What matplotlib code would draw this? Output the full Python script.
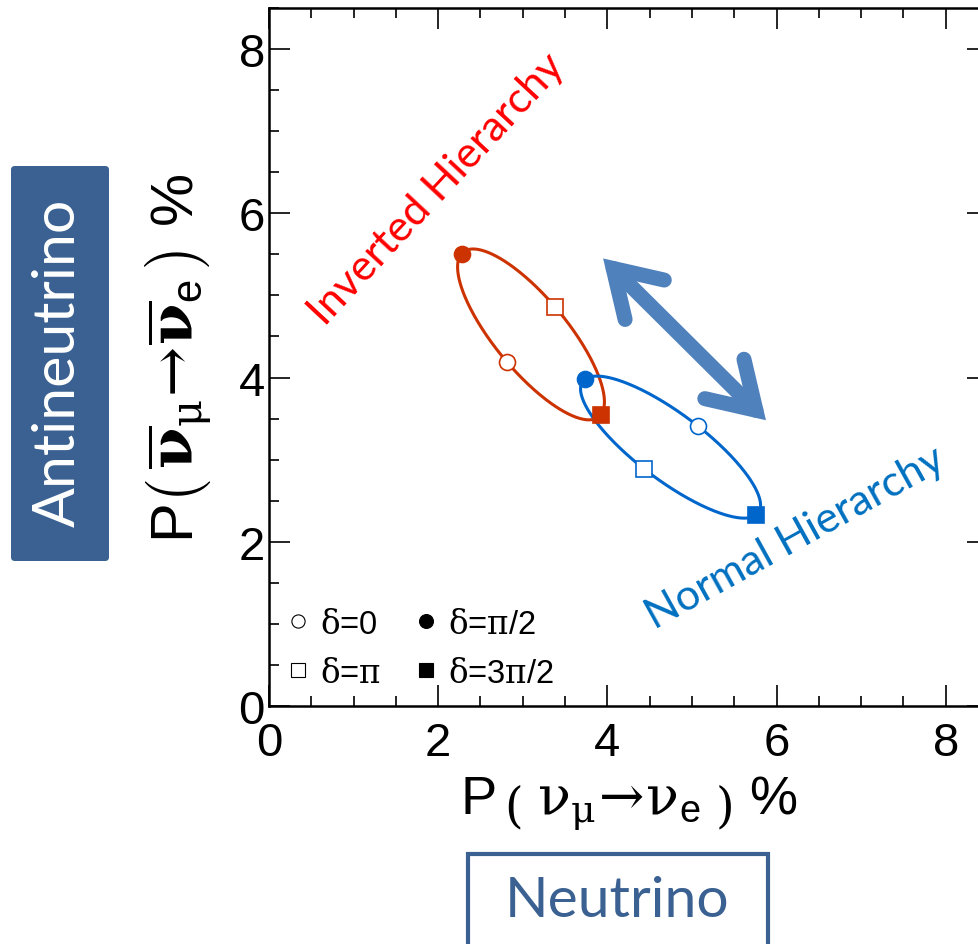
import numpy as np
import matplotlib
matplotlib.use('Agg')
import matplotlib.pyplot as plt
from matplotlib.lines import Line2D
from matplotlib.patches import FancyArrowPatch, FancyBboxPatch

# ---------------- data ----------------
# order of points: delta = 0, pi/2, pi, 3pi/2
delta_names = ['0', r'$\pi$/2', r'$\pi$', r'3$\pi$/2']
nh_nu    = [5.07, 3.73, 4.43, 5.76]   # Normal hierarchy, P(nu_mu -> nu_e) %
nh_nubar = [3.41, 3.98, 2.89, 2.33]   # Normal hierarchy, P(anti) %
ih_nu    = [2.81, 2.28, 3.38, 3.92]   # Inverted hierarchy
ih_nubar = [4.19, 5.51, 4.86, 3.54]
xticks = [0, 2, 4, 6, 8]
yticks = [0, 2, 4, 6, 8]

IH_COLOR = '#CC3300'
NH_COLOR = '#0066CC'
BOX_COLOR = '#3A6191'

plt.rcParams['font.family'] = ['Liberation Sans', 'DejaVu Sans']
plt.rcParams['mathtext.fontset'] = 'custom'
plt.rcParams['mathtext.rm'] = 'DejaVu Serif'
plt.rcParams['mathtext.it'] = 'DejaVu Serif:italic'
plt.rcParams['mathtext.bf'] = 'DejaVu Serif:bold'
plt.rcParams['mathtext.sf'] = 'Liberation Sans'
plt.rcParams['mathtext.default'] = 'rm'


def cp_ellipse(px, py, n=400):
    """CP-phase ellipse x = c + a cos(d) + b sin(d) through the four delta points."""
    px = np.asarray(px, float)
    py = np.asarray(py, float)
    d = np.linspace(0, 2 * np.pi, n)
    cx, cy = px.mean(), py.mean()
    ax_, bx_ = (px[0] - px[2]) / 2, (px[1] - px[3]) / 2
    ay_, by_ = (py[0] - py[2]) / 2, (py[1] - py[3]) / 2
    return cx + ax_ * np.cos(d) + bx_ * np.sin(d), cy + ay_ * np.cos(d) + by_ * np.sin(d)


W, H = 979, 945
fig = plt.figure(figsize=(W / 100, H / 100), dpi=100)
ax = fig.add_axes([269 / W, (H - 707) / H, (988 - 269) / W, (707 - 9) / H])

ax.set_xlim(0, 8.5)
ax.set_ylim(0, 8.5)

marker_specs = [
    dict(marker='o', filled=False, ms=11.5),
    dict(marker='o', filled=True, ms=11.5),
    dict(marker='s', filled=False, ms=11),
    dict(marker='s', filled=True, ms=11.5),
]

for xs, ys, col in [(ih_nu, ih_nubar, IH_COLOR), (nh_nu, nh_nubar, NH_COLOR)]:
    ex, ey = cp_ellipse(xs, ys)
    ax.plot(ex, ey, color=col, lw=2.2, zorder=2)
    for i, spec in enumerate(marker_specs):
        ax.plot([xs[i]], [ys[i]], ls='none', marker=spec['marker'], ms=spec['ms'],
                mfc=col if spec['filled'] else 'white', mec=col,
                mew=1.2, zorder=3)

# ---------------- axes styling ----------------
ax.set_xticks(xticks)
ax.set_yticks(yticks)
ax.set_xticks(np.arange(0, 8.51, 0.5), minor=True)
ax.set_yticks(np.arange(0, 8.51, 0.5), minor=True)
ax.tick_params(which='both', direction='in', top=True, right=True, width=1.2)
ax.tick_params(which='major', length=15)
ax.tick_params(which='minor', length=7)
ax.tick_params(axis='x', which='major', labelsize=34, pad=11)
ax.tick_params(axis='y', which='major', labelsize=34, pad=3)
for s in ax.spines.values():
    s.set_linewidth(1.8)

ax.set_xlabel(r'P$\,\left(\;\nu_{\mu}\!\rightarrow\!\nu_{\mathsf{e}}\;\right)$ %',
              fontsize=39, labelpad=6)
ax.set_ylabel(r'P$\left(\,\overline{\mathbf{\nu}}_{\mu}\!\rightarrow\!\overline{\mathbf{\nu}}_{\mathsf{e}}\,\right)$ %',
              fontsize=43, labelpad=17)

# ---------------- legend ----------------
handles, labels = [], []
order = [0, 2, 1, 3]
for i in order:
    spec = marker_specs[i]
    handles.append(Line2D([], [], ls='none', marker=spec['marker'],
                          ms=10 if spec['filled'] else 9.5,
                          mfc='black' if spec['filled'] else 'white',
                          mec='black', mew=0.8))
    labels.append(r'$\delta$=' + delta_names[i])
ax.legend(handles, labels, ncol=2, loc='lower left', bbox_to_anchor=(0.0236, 0.025),
          frameon=False, prop={'family': 'Liberation Sans', 'size': 23.5},
          handlelength=0.75, handletextpad=0.3, columnspacing=1.0,
          labelspacing=0.55, borderpad=0, borderaxespad=0)

# ---------------- annotations ----------------
ax.text(1.99, 6.30, 'Inverted Hierarchy', color='#FF0000', fontsize=31,
        family='Lato', rotation=47, rotation_mode='anchor', ha='center', va='center')
ax.text(6.22, 2.06, 'Normal Hierarchy', color='#0070C0', fontsize=31,
        family='Lato', rotation=29, rotation_mode='anchor', ha='center', va='center')

arrow = FancyArrowPatch((3.95, 5.45), (5.875, 3.48),
                        arrowstyle='<->,head_length=32,head_width=20',
                        mutation_scale=1, shrinkA=0, shrinkB=0,
                        color='#4F81BD', lw=10.8, capstyle='round', joinstyle='miter',
                        zorder=4)
ax.add_patch(arrow)

# ---------------- side boxes ----------------
box1 = FancyBboxPatch((11 / W, (H - 562) / H), 98 / W, 395 / H,
                      boxstyle='round,pad=0,rounding_size=0.004',
                      transform=fig.transFigure, facecolor=BOX_COLOR,
                      edgecolor='none', zorder=0)
fig.patches.append(box1)
fig.text(58 / W, (H - 363) / H, 'Antineutrino', color='white', fontsize=42.5,
         family='Lato', rotation=90, ha='center', va='center')

box2 = FancyBboxPatch((468 / W, (H - 985) / H), 300 / W, 130 / H,
                      boxstyle='square,pad=0', transform=fig.transFigure,
                      facecolor='white', edgecolor=BOX_COLOR, lw=3, zorder=0)
fig.patches.append(box2)
fig.text(617 / W, (H - 917) / H, 'Neutrino', color=BOX_COLOR, fontsize=41,
         family='Lato', ha='center', va='baseline')

fig.savefig('out.png', dpi=100)
